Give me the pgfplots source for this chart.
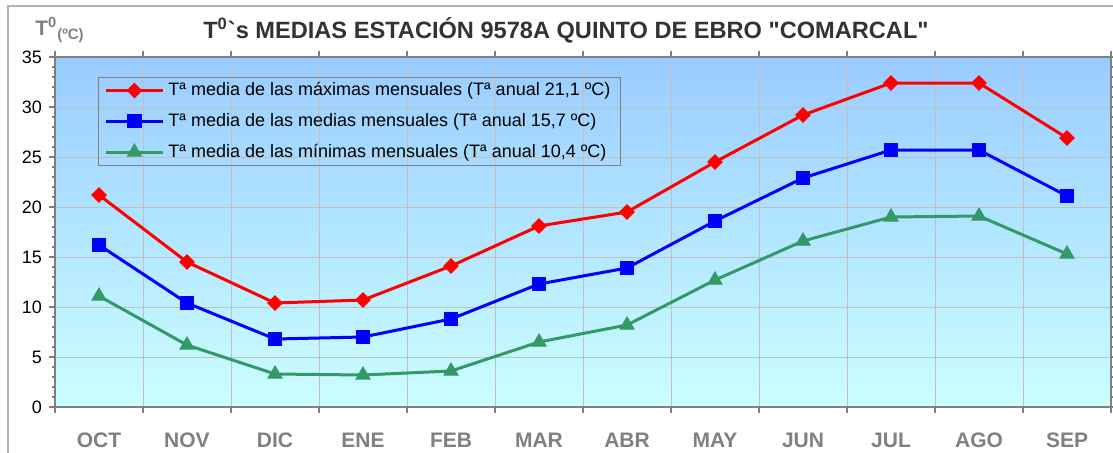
\documentclass[border=0pt]{standalone}
\usepackage{pgfplots}
\pgfplotsset{compat=1.18}
\usepackage{fontspec}
\setmainfont{Liberation Sans}
\newfontfamily\titlefont{Liberation Sans}
\definecolor{bgtop}{RGB}{153,204,255}
\definecolor{bgbot}{RGB}{204,255,255}
\definecolor{tmax}{RGB}{255,0,0}
\definecolor{tmed}{RGB}{0,0,255}
\definecolor{tmin}{RGB}{51,153,102}
\definecolor{axgray}{RGB}{128,128,128}
\definecolor{gridgray}{RGB}{192,192,192}
\definecolor{titlegray}{RGB}{51,51,51}

\pgfplotstableread{
x  tmax tmed tmin
0  21.2 16.2 11.1
1  14.5 10.4 6.2
2  10.4 6.8  3.3
3  10.7 7.0  3.2
4  14.1 8.8  3.6
5  18.1 12.3 6.5
6  19.5 13.9 8.2
7  24.5 18.6 12.7
8  29.2 22.9 16.6
9  32.4 25.7 19.0
10 32.4 25.7 19.1
11 26.9 21.1 15.3
}\datatable

\begin{document}
\begin{tikzpicture}
\begin{axis}[
  scale only axis,
  width=528pt, height=175pt,
  xmin=-0.5, xmax=11.5, ymin=0, ymax=35,
  xtick={-0.5,0.5,...,11.5}, xticklabels={},
  extra x ticks={0,...,11},
  extra x tick labels={OCT,NOV,DIC,ENE,FEB,MAR,ABR,MAY,JUN,JUL,AGO,SEP},
  extra x tick style={major tick length=0pt, grid=none,
    tick label style={font=\fontsize{10.5}{12}\selectfont\bfseries, text=axgray, yshift=-9.5pt}},
  ytick={0,5,...,35}, minor y tick num=4,
  tick align=outside, major tick length=3pt, minor tick length=1.5pt,
  tick style={axgray, line width=0.6pt},
  xmajorgrids, ymajorgrids,
  grid style={gridgray, line width=0.5pt},
  axis line style={axgray, line width=1pt},
  axis background/.style={shade, top color=bgtop, bottom color=bgbot},
  yticklabel style={font=\fontsize{9}{11}\selectfont},
  /pgf/number format/assume math mode=true,
  legend style={at={(0.0407,0.943)}, anchor=north west, draw=axgray, line width=0.5pt,
    fill=none, font=\fontsize{9}{11}\selectfont, row sep=3.3pt,
    inner xsep=3pt, inner ysep=0.5pt},
  legend cell align=left,
  legend image code/.code={\draw[mark repeat=2, mark phase=2] plot coordinates {(0cm,0cm) (0.5cm,0cm) (1cm,0cm)};},
  every axis plot/.append style={line width=1.5pt},
]
\coordinate (A) at (rel axis cs:0,0);
\coordinate (B) at (rel axis cs:1,1);
\coordinate (C) at (rel axis cs:0,1);
\addplot[color=tmax, mark=square*, mark size=2.5pt, mark options={rotate=45, fill=tmax, line width=0.5pt}] table[x=x, y=tmax] {\datatable};
\addlegendentry{Tª media de las máximas mensuales (Tª anual 21,1 ºC)}
\addplot[color=tmed, mark=square*, mark size=3.3pt, mark options={fill=tmed, line width=0.5pt}] table[x=x, y=tmed] {\datatable};
\addlegendentry{Tª media de las medias mensuales (Tª anual 15,7 ºC)}
\addplot[color=tmin, mark=triangle*, mark size=4pt, mark options={fill=tmin, line width=0.5pt}] table[x=x, y=tmin] {\datatable};
\addlegendentry{Tª media de las mínimas mensuales (Tª anual 10,4 ºC)}
\end{axis}
\draw[gridgray!80!gray, line width=0.8pt] ([shift={(-23.5pt,-30pt)}]A) -- ([shift={(-23.5pt,25.5pt)}]C) -- ([shift={(10pt,25.5pt)}]B);
\node[font=\titlefont\fontsize{11.8}{14}\selectfont\bfseries, text=titlegray] at ([shift={(255.5pt,13.5pt)}]C) {T\textsuperscript{0}`s MEDIAS ESTACIÓN 9578A QUINTO DE EBRO "COMARCAL"};
\node[anchor=west, font=\fontsize{10.5}{12}\selectfont\bfseries, text=axgray, inner sep=0pt] at ([shift={(-10pt,13.5pt)}]C) {T\textsuperscript{0}\raisebox{-0.4ex}{\fontsize{7.5}{8}\selectfont(ºC)}};
\pgfresetboundingbox
\path ([shift={(-27.5pt,-22.5pt)}]A) rectangle ([shift={(1pt,28.5pt)}]B);
\end{tikzpicture}
\end{document}
